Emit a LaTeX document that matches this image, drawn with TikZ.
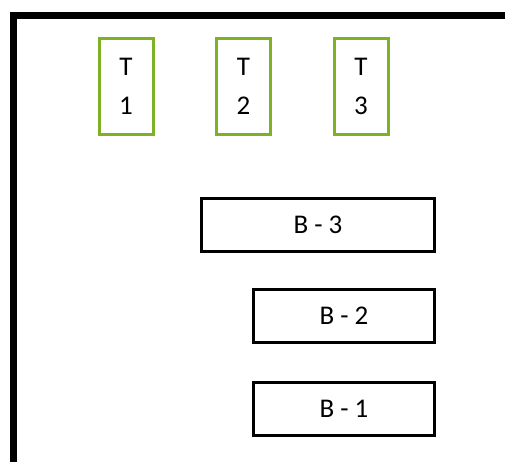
\documentclass[tikz,border=0pt]{standalone}
\usepackage{fontspec}
\setmainfont{Carlito}
\usetikzlibrary{positioning}
\definecolor{TaskGreen}{RGB}{124,178,36}
\tikzset{
  tbox/.style={draw=TaskGreen,rectangle,line width=3pt,
               minimum width=54pt,minimum height=96pt,inner sep=0pt,
               font=\fontsize{27}{39}\selectfont,align=center},
  bbox/.style={draw=black,rectangle,line width=3pt,
               minimum height=53pt,inner sep=0pt,
               font=\fontsize{27}{31}\selectfont},
  frame/.style={draw=black,line width=7pt}
}
\begin{document}
\begin{tikzpicture}[x=1pt,y=-1pt,node distance=60.5pt]
\useasboundingbox (0,0) rectangle (505,461);
% outer frame, open to the right and below
\coordinate (fbot) at (13.5,470);
\coordinate (fright) at (515,15);
\draw[frame] (fbot) |- (fright);
% top row
\node[tbox] (t1) at (126,86) {T\\1};
\node[tbox, right=of t1] (t2) {T\\2};
\node[tbox, right=of t2] (t3) {T\\3};
% stack
\node[bbox, minimum width=233pt] (b3) at (318,224.5) {B - 3};
\node[bbox, minimum width=181pt, below=35pt of b3.south east, anchor=north east] (b2) {B - 2};
\node[bbox, minimum width=181pt, below=37pt of b2.south east, anchor=north east] (b1) {B - 1};
\end{tikzpicture}
\end{document}
